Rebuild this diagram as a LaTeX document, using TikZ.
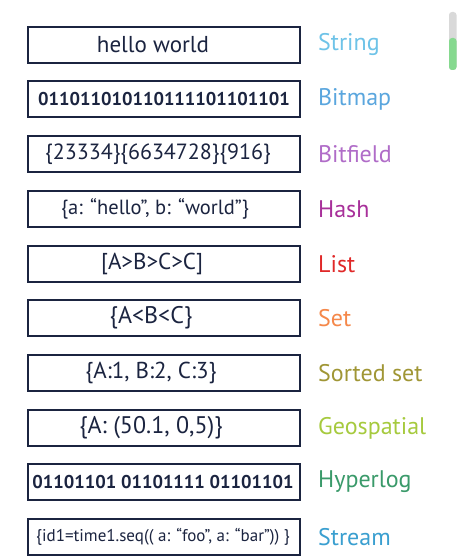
\documentclass[tikz,border=0pt]{standalone}
\usepackage{fontspec}
\setmainfont{PT Sans}
\definecolor{navy}{HTML}{1B2440}
\definecolor{cString}{HTML}{6EC3E8}
\definecolor{cBitmap}{HTML}{5AA6DE}
\definecolor{cBitfield}{HTML}{B06CC8}
\definecolor{cHash}{HTML}{A8309A}
\definecolor{cList}{HTML}{E02828}
\definecolor{cSet}{HTML}{F5884A}
\definecolor{cSorted}{HTML}{A09635}
\definecolor{cGeo}{HTML}{A6CA3E}
\definecolor{cHyper}{HTML}{3A9A6A}
\definecolor{cStream}{HTML}{3A9FD0}
\definecolor{sbgray}{HTML}{D9D9D9}
\definecolor{sbgreen}{HTML}{86D98F}
\tikzset{
  valbox/.style={draw=navy, line width=2.6pt, minimum width=272pt, minimum height=36pt,
    inner sep=0pt},
  valtext/.style={inner sep=0pt, text=navy, font=\fontsize{23}{27}\selectfont},
  bintext/.style={inner sep=0pt, text=navy, font=\fontsize{18.5}{22}\selectfont\bfseries},
  typelbl/.style={anchor=west, inner sep=0pt, font=\fontsize{24}{28}\selectfont}
}
\begin{document}
\begin{tikzpicture}[x=1pt,y=-1pt]
\useasboundingbox[fill=white] (0,0) rectangle (457,559);
% scrollbar
\fill[sbgray, rounded corners=3pt] (449,12) rectangle (456.5,70);
\fill[sbgreen, rounded corners=3pt] (449,38) rectangle (456.5,70);
% boxes
\foreach \i/\y in {1/45,2/99,3/154,4/209,5/264,6/318,7/373,8/428,9/482,10/537}
  \node[valbox] (b\i) at (164,\y) {};
% box texts
\node[valtext] (t1) at (153,45) {hello world};
\node[bintext] (t2) at (164,99) {011011010110111101101101};
\node[valtext, font=\fontsize{22}{26}\selectfont] (t3) at (158,154) {\{23334\}\{6634728\}\{916\}};
\node[valtext, font=\fontsize{20.5}{24}\selectfont] (t4) at (155,209) {\{a: “hello”, b: “world”\}};
\node[valtext] (t5) at (152,264) {[A>B>C>C]};
\node[valtext, font=\fontsize{24}{28}\selectfont] (t6) at (151,318) {\{A<B<C\}};
\node[valtext] (t7) at (151,373) {\{A:1, B:2, C:3\}};
\node[valtext, font=\fontsize{24}{28}\selectfont] (t8) at (151,428) {\{A: (50.1, 0,5)\}};
\node[bintext] (t9) at (163,482) {01101101 01101111 01101101};
\node[valtext, font=\fontsize{17}{20}\selectfont] (t10) at (163,537) {\{id1=time1.seq(( a: “foo”, a: “bar”)) \}};
% labels
\node[typelbl, text=cString] (l1) at (318,45) {String};
\node[typelbl, text=cBitmap] (l2) at (318,99) {Bitmap};
\node[typelbl, text=cBitfield] (l3) at (318,154) {Bitfield};
\node[typelbl, text=cHash] (l4) at (318,209) {Hash};
\node[typelbl, text=cList] (l5) at (318,264) {List};
\node[typelbl, text=cSet] (l6) at (318,318) {Set};
\node[typelbl, text=cSorted] (l7) at (318,373) {Sorted set};
\node[typelbl, text=cGeo] (l8) at (318,428) {Geospatial};
\node[typelbl, text=cHyper] (l9) at (318,482) {Hyperlog};
\node[typelbl, text=cStream] (l10) at (318,537) {Stream};
\end{tikzpicture}
\end{document}
